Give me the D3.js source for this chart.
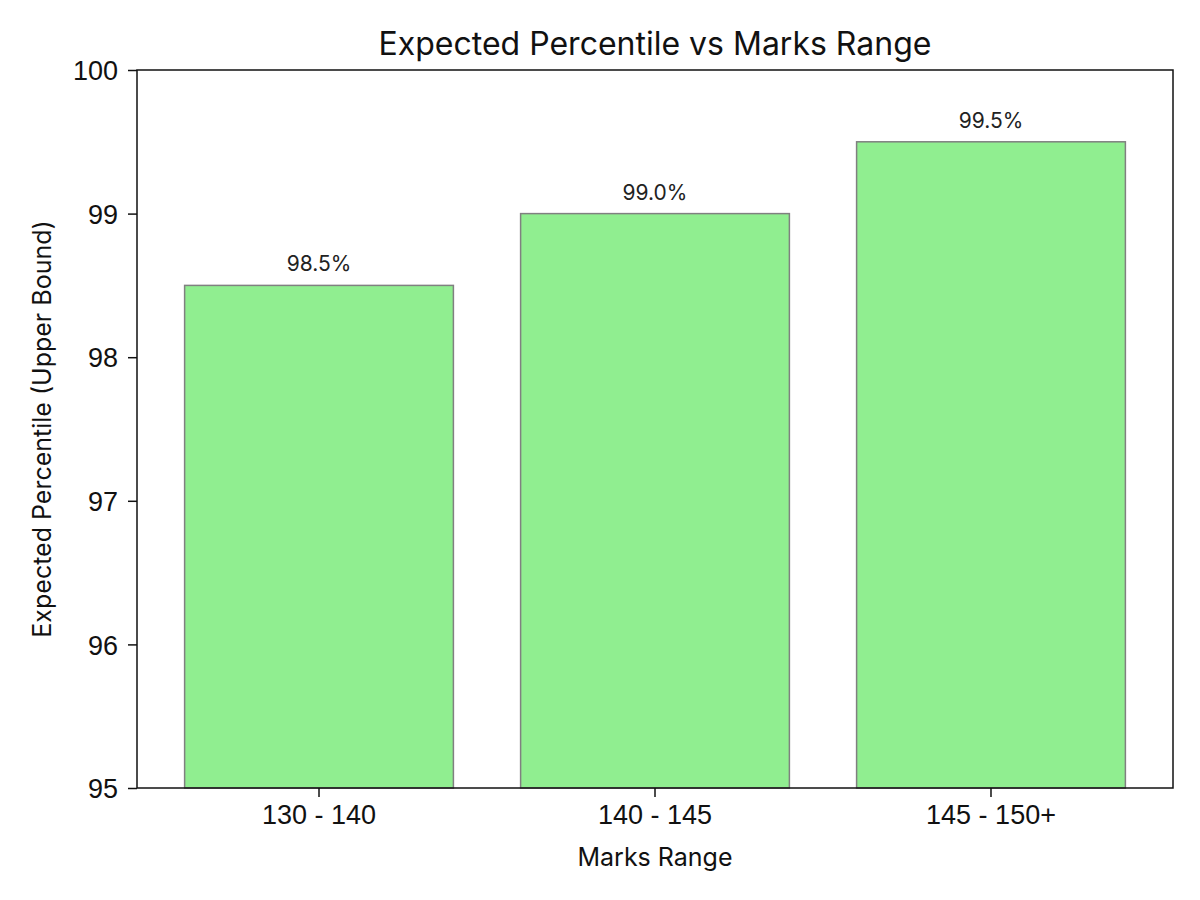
<!DOCTYPE html>
<html>
<head>
<meta charset="utf-8">
<script src="https://cdn.jsdelivr.net/npm/d3@7"></script>
<style>
    body { margin: 0; background: #fff; }
    svg { font-family: Inter, "Noto Sans", sans-serif; }
</style>
</head>
<body>
<div id="chart"></div>
<script>
// Chart data
const categories = ['130 - 140', '140 - 145', '145 - 150+'];
const percentiles = [98.5, 99.0, 99.5];
const yTicks = [95, 96, 97, 98, 99, 100];

const width = 1200;
const height = 900;
const margin = { top: 70, right: 27, bottom: 112, left: 137 };

const svg = d3.select('#chart')
    .append('svg')
    .attr('width', width)
    .attr('height', height);

const x = d3.scaleBand()
    .domain(categories)
    .range([margin.left, width - margin.right])
    .paddingInner(0.2)
    .paddingOuter(0.1417);

const y = d3.scaleLinear()
    .domain([95, 100])
    .range([height - margin.bottom, margin.top]);

// Bars
svg.append('g')
    .selectAll('rect')
    .data(percentiles)
    .join('rect')
    .attr('x', (d, i) => x(categories[i]))
    .attr('y', d => y(d))
    .attr('width', x.bandwidth())
    .attr('height', d => y(95) - y(d))
    .attr('fill', '#90ee90')
    .attr('stroke', '#808080')
    .attr('stroke-width', 1.5);

// Value labels
svg.append('g')
    .selectAll('text')
    .data(percentiles)
    .join('text')
    .attr('x', (d, i) => x(categories[i]) + x.bandwidth() / 2)
    .attr('y', d => y(d) - 14)
    .attr('text-anchor', 'middle')
    .attr('font-size', 21)
    .attr('fill', '#222')
    .text(d => d.toFixed(1) + '%');

// Axes
const xAxis = svg.append('g')
    .attr('transform', `translate(0,${height - margin.bottom})`)
    .call(d3.axisBottom(x).tickSizeOuter(0).tickSize(9).tickPadding(8));

const yAxis = svg.append('g')
    .attr('transform', `translate(${margin.left},0)`)
    .call(d3.axisLeft(y).tickValues(yTicks).tickFormat(d3.format('d'))
        .tickSizeOuter(0).tickSize(9).tickPadding(10));

[xAxis, yAxis].forEach(g => {
    g.selectAll('text').attr('font-size', 27).attr('fill', '#111').attr('font-family', null);
    g.selectAll('line').attr('stroke', '#111').attr('stroke-width', 1.5);
    g.select('.domain').remove();
});
yAxis.selectAll('text').attr('dy', '0.36em');

// Frame
svg.append('rect')
    .attr('x', margin.left)
    .attr('y', margin.top)
    .attr('width', width - margin.left - margin.right)
    .attr('height', height - margin.top - margin.bottom)
    .attr('fill', 'none')
    .attr('stroke', '#111')
    .attr('stroke-width', 1.5);

// Titles
svg.append('text')
    .attr('x', (margin.left + width - margin.right) / 2)
    .attr('y', 55)
    .attr('text-anchor', 'middle')
    .attr('font-size', 32)
    .attr('fill', '#111')
    .text('Expected Percentile vs Marks Range');

svg.append('text')
    .attr('x', (margin.left + width - margin.right) / 2)
    .attr('y', 866)
    .attr('text-anchor', 'middle')
    .attr('font-size', 25)
    .attr('fill', '#111')
    .text('Marks Range');

svg.append('text')
    .attr('transform', `translate(51,${(margin.top + height - margin.bottom) / 2}) rotate(-90)`)
    .attr('text-anchor', 'middle')
    .attr('font-size', 25)
    .attr('fill', '#111')
    .text('Expected Percentile (Upper Bound)');
</script>
</body>
</html>
